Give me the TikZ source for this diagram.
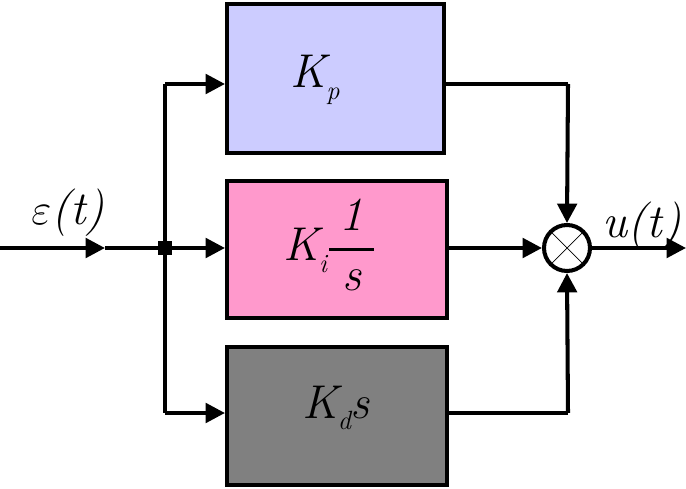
\documentclass[tikz,border=0pt]{standalone}
\usepackage{fontspec}
\usepackage{amsmath}
\usetikzlibrary{arrows.meta}
\newcommand{\bigtxt}{\fontsize{27}{30}\selectfont}
\newcommand{\lowsub}[1]{\raisebox{-0.25em}{\fontsize{15}{15}\selectfont\itshape #1}}

\begin{document}
\begin{tikzpicture}[x=0.02cm,y=-0.02cm,
    blk/.style={draw, line width=2.3pt, inner sep=0pt},
    arr/.style={line width=2.3pt, -{Triangle[length=11pt,width=11pt]}},
    wire/.style={line width=2.3pt}]
\useasboundingbox (0,0) rectangle (686,489);
% blocks
\node [blk, fill={rgb,255:red,204;green,204;blue,255}, minimum width=4.34cm, minimum height=2.98cm] (kp) at (335.5,78.5) {};
\node [blk, fill={rgb,255:red,255;green,153;blue,204}, minimum width=4.4cm, minimum height=2.74cm] (ki) at (337,249.5) {};
\node [blk, fill={rgb,255:red,128;green,128;blue,128}, minimum width=4.4cm, minimum height=2.76cm] (kd) at (337,416) {};
\node (kplbl) at (315,80) {\bigtxt\itshape K\lowsub{p}};
\node (kilbl) at (330,245) {\bigtxt\itshape K\lowsub{i}$\genfrac{}{}{1.8pt}{0}{\text{\bigtxt\itshape\makebox[0.95em]{1}}}{\text{\bigtxt\itshape\makebox[0.95em]{s}}}$};
\node (kdlbl) at (336,408) {\bigtxt\itshape K\lowsub{d}s};
% summing point
\node [draw, circle, line width=2.3pt, minimum size=0.92cm, inner sep=0pt, fill=white] (sum) at (567,248) {};
\draw [line width=0.4pt] (sum.north west) -- (sum.south east) (sum.north east) -- (sum.south west);
% branch point
\node [fill=black, minimum size=8pt, inner sep=0pt] (j) at (165,248) {};
\coordinate (in) at (0,248);
\coordinate (inmid) at (105,248);
\coordinate (tapp) at (165,84);
\coordinate (tapd) at (165,413);
\coordinate (outp) at (568,84);
\coordinate (outd) at (568,413);
\coordinate (out) at (686,248);
% wires
\draw [arr] (in) -- (inmid);
\draw [wire] (inmid) -- (j);
\draw [wire] (tapp) -- (tapd);
\draw [arr] (tapp) -- (tapp -| kp.west);
\draw [arr] (j) -- (j -| ki.west);
\draw [arr] (tapd) -- (tapd -| kd.west);
\draw [wire] (outp -| kp.east) -- (outp);
\draw [arr] (outp) -- (sum.north);
\draw [wire] (outd -| kd.east) -- (outd);
\draw [arr] (outd) -- (sum.south);
\draw [arr] (sum -| ki.east) -- (sum.west);
\draw [arr] (sum.east) -- (out);
% labels
\node (eps) at (68,213) {\bigtxt $\varepsilon$\textit{(t)}};
\node (u) at (642,226) {\bigtxt\itshape u(t)};
\end{tikzpicture}
\end{document}
